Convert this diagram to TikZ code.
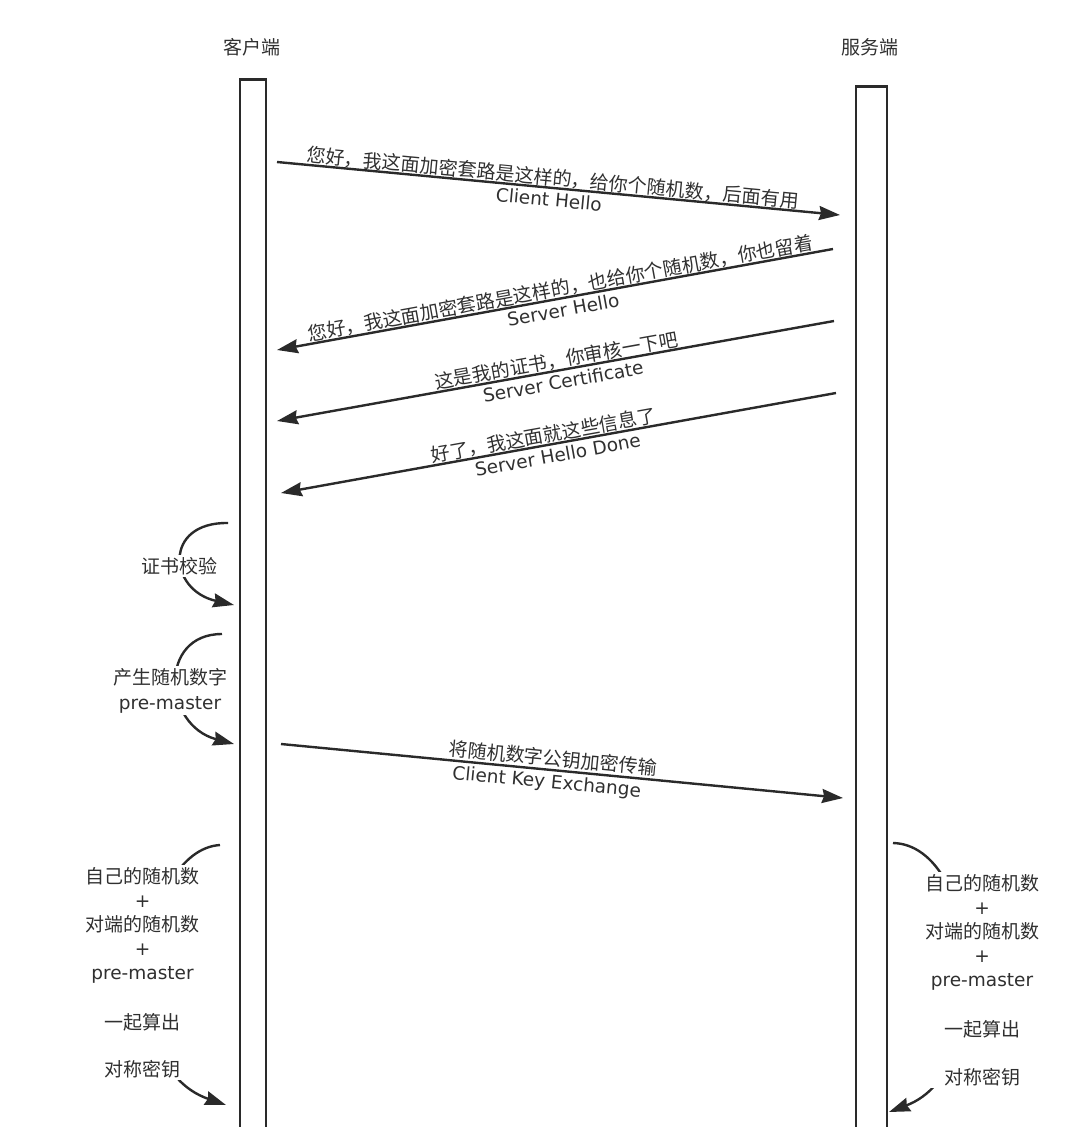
\documentclass[tikz,border=0pt]{standalone}
\usepackage{fontspec}
\setmainfont{Noto Sans CJK SC}
\newfontfamily\latfont{DejaVu Sans}
\usetikzlibrary{arrows.meta}
\definecolor{ln}{HTML}{2A2A2A}
\definecolor{tx}{HTML}{303030}
\newcommand{\latx}[1]{{\latfont\fontsize{18.5pt}{24pt}\selectfont #1}}
\begin{document}
\begin{tikzpicture}[x=1pt,y=-1pt,
  every node/.style={text=tx, font=\fontsize{19pt}{24pt}\selectfont, inner sep=0pt},
  life/.style={draw=ln, line width=2.5pt, fill=white, anchor=north},
  msg/.style={draw=ln, line width=2.4pt, -{Stealth[length=21pt,width=14pt,inset=2pt]}},
  cn/.style={sloped, anchor=south, outer sep=1pt},
  en/.style={sloped, anchor=north, outer sep=4.5pt, font=\latfont\fontsize{18.5pt}{22pt}\selectfont},
  note/.style={fill=white, align=center, inner sep=2pt},
]
\path[use as bounding box, clip] (0,0) rectangle (1080,1127);

% headers
\node (hc) at (252,47) {客户端};
\node (hs) at (870,47) {服务端};

% lifelines
\node[life, minimum width=26pt, minimum height=1100pt] (cl) at (253,78) {};
\node[life, minimum width=31pt, minimum height=1100pt] (sl) at (871.5,85) {};

% messages
\coordinate (m1s) at (277,162); \coordinate (m1e) at (840,215);
\draw[msg] (m1s) -- node[cn,pos=0.488]{您好，我这面加密套路是这样的，给你个随机数，后面有用}
                   node[en,pos=0.485]{Client Hello} (m1e);

\coordinate (m2s) at (833,249); \coordinate (m2e) at (277,350);
\draw[msg] (m2s) -- node[cn,pos=0.487]{您好，我这面加密套路是这样的，也给你个随机数，你也留着}
                   node[en,pos=0.489]{Server Hello} (m2e);

\coordinate (m3s) at (834,321); \coordinate (m3e) at (277,421);
\draw[msg] (m3s) -- node[cn,pos=0.495]{这是我的证书，你审核一下吧}
                   node[en,pos=0.49]{Server Certificate} (m3e);

\coordinate (m4s) at (836,393); \coordinate (m4e) at (281,493);
\draw[msg] (m4s) -- node[cn,pos=0.524]{好了，我这面就这些信息了}
                   node[en,pos=0.505]{Server Hello Done} (m4e);

\coordinate (m5s) at (281,744); \coordinate (m5e) at (843,798);
\draw[msg] (m5s) -- node[cn,pos=0.482,outer sep=3pt]{将随机数字公钥加密传输}
                   node[en,pos=0.475]{Client Key Exchange} (m5e);

% self arcs (client)
\coordinate (a1s) at (228,523); \coordinate (a1e) at (234,605);
\draw[msg] (a1s) .. controls (163,522) and (168,590) .. (a1e);
\node[note] (t1) at (179,566) {证书校验};

\coordinate (a2s) at (222,634); \coordinate (a2e) at (234,744);
\draw[msg] (a2s) .. controls (158,634) and (163,725) .. (a2e);
\node[note, anchor=north] (t2) at (170,666) {产生随机数字\\[1pt]\latx{pre-master}};

\coordinate (a3s) at (220,845); \coordinate (a3e) at (226,1105);
\draw[msg] (a3s) .. controls (140,850) and (110,1065) .. (a3e);
\node[note, anchor=north] (t3) at (142.5,865)
  {自己的随机数\\\latx{+}\\对端的随机数\\\latx{+}\\\latx{pre-master}\\[26pt]一起算出\\[23pt]对称密钥};

% self arc (server)
\coordinate (a4s) at (893,843); \coordinate (a4e) at (889,1112);
\draw[msg] (a4s) .. controls (980,845) and (1000,1070) .. (a4e);
\node[note, anchor=north] (t4) at (982,872)
  {自己的随机数\\\latx{+}\\对端的随机数\\\latx{+}\\\latx{pre-master}\\[26pt]一起算出\\[24pt]对称密钥};
\end{tikzpicture}
\end{document}
